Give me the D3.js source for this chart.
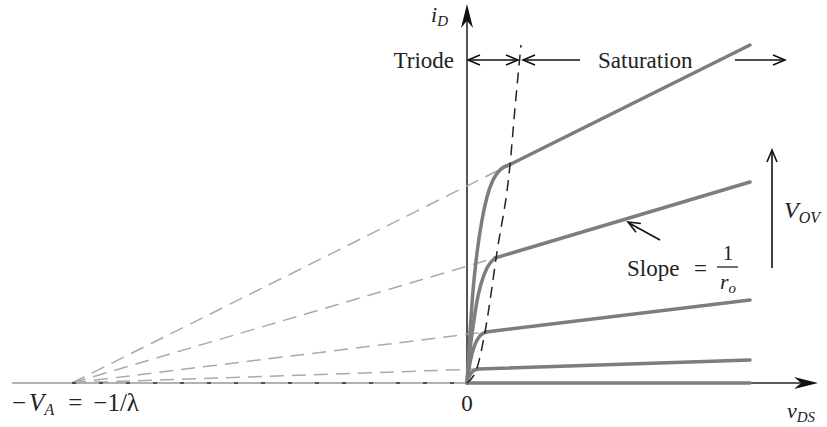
<!DOCTYPE html>
<html>
<head>
<meta charset="utf-8">
<script src="https://cdn.jsdelivr.net/npm/d3@7"></script>
<style>
  body { margin: 0; background: #fff; }
  text { font-family: "Liberation Serif", "DejaVu Serif", serif; fill: #222; }
</style>
</head>
<body>
<svg id="chart" width="827" height="427"></svg>
<script>
// v in volts-ish units, i in mA-ish units
var VA = 3.95
  , vMax = 2.83

// triode region of each curve, ending at the knee (v = V_OV)
var triode = [
  [[0, 0], [0.03, 0.5], [0.06, 0.92], [0.1, 1.3], [0.15, 1.63], [0.2, 1.86], [0.26, 2.03], [0.33, 2.13], [0.42, 2.18]],
  [[0, 0], [0.03, 0.33], [0.07, 0.63], [0.1, 0.82], [0.14, 0.99], [0.2, 1.15], [0.28, 1.25]],
  [[0, 0], [0.03, 0.2], [0.07, 0.36], [0.12, 0.46], [0.19, 0.51]],
  [[0, 0], [0.03, 0.08], [0.06, 0.12], [0.11, 0.14]],
  [[0, 0]]
]
// current at the right end of each saturation line
var satEnd = [3.38, 2.01, 0.83, 0.23, 0]

// v_DS = V_OV boundary (dashed)
var boundary = [[0, 0], [0.1, 0.15], [0.18, 0.51], [0.3, 1.31], [0.43, 2.18], [0.48, 2.75], [0.54, 3.38]]

var svg = d3.select('svg#chart')

var x = d3.scaleLinear().domain([-4.55, 3.51]).range([12, 818])
  , y = d3.scaleLinear().domain([0, 3.78]).range([383, 5])

var line = d3.line().x(function(d) { return x(d[0]) }).y(function(d) { return y(d[1]) })
  , smooth = d3.line().x(function(d) { return x(d[0]) }).y(function(d) { return y(d[1]) }).curve(d3.curveMonotoneX)

// open "V" arrowhead at (tx,ty) pointing along angle a
function openHead(g, tx, ty, a, len, half) {
  var bx = tx - len * Math.cos(a), by = ty - len * Math.sin(a)
    , px = -Math.sin(a) * half, py = Math.cos(a) * half
  g.append('path')
    .attr('d', 'M' + (bx + px) + ',' + (by + py) + 'L' + tx + ',' + ty + 'L' + (bx - px) + ',' + (by - py))
    .attr('fill', 'none').attr('stroke', '#111').attr('stroke-width', 1.6)
}
function filledHead(g, tx, ty, a, len, half) {
  var bx = tx - len * Math.cos(a), by = ty - len * Math.sin(a)
    , px = -Math.sin(a) * half, py = Math.cos(a) * half
    , nx = tx - 0.7 * len * Math.cos(a), ny = ty - 0.7 * len * Math.sin(a)
  g.append('path')
    .attr('d', 'M' + tx + ',' + ty + 'L' + (bx + px) + ',' + (by + py) + 'L' + nx + ',' + ny + 'L' + (bx - px) + ',' + (by - py) + 'Z')
    .attr('fill', '#111')
}

var g = svg.append('g')

// left part of x-axis (grey) and right part (black)
g.append('line').attr('x1', x(-4.55)).attr('x2', x(0)).attr('y1', y(0)).attr('y2', y(0))
  .attr('stroke', '#999').attr('stroke-width', 1.5)
g.append('line').attr('x1', x(0)).attr('x2', 812).attr('y1', y(0)).attr('y2', y(0))
  .attr('stroke', '#222').attr('stroke-width', 1.5)
filledHead(g, 818, y(0), 0, 24, 6)

// y-axis
g.append('line').attr('x1', x(0)).attr('x2', x(0)).attr('y1', y(0)).attr('y2', 12)
  .attr('stroke', '#555').attr('stroke-width', 2)
filledHead(g, x(0), 4, -Math.PI / 2, 24, 6)

// dashed extrapolations to -V_A
triode.forEach(function(pts, k) {
  var knee = pts[pts.length - 1]
  g.append('path').attr('d', line([[-VA, 0], knee]))
    .attr('fill', 'none').attr('stroke', k === 4 ? '#333' : '#aaa')
    .attr('stroke-width', 1.5).attr('stroke-dasharray', k === 4 ? '4,23' : '14,8')
})

// characteristic curves
triode.forEach(function(pts, k) {
  var knee = pts[pts.length - 1]
  if (pts.length > 1) {
    g.append('path').attr('d', smooth(pts))
      .attr('fill', 'none').attr('stroke', '#7d7d7d').attr('stroke-width', 3.5).attr('stroke-linecap', 'round')
  }
  g.append('path').attr('d', line([knee, [vMax, satEnd[k]]]))
    .attr('fill', 'none').attr('stroke', '#7d7d7d').attr('stroke-width', 3.5).attr('stroke-linecap', 'round')
})

// boundary
g.append('path').attr('d', smooth(boundary))
  .attr('fill', 'none').attr('stroke', '#222').attr('stroke-width', 1.5).attr('stroke-dasharray', '11,7')

// Triode / Saturation arrows
var ay = 60
g.append('line').attr('x1', x(0) + 1).attr('x2', 518).attr('y1', ay).attr('y2', ay).attr('stroke', '#111').attr('stroke-width', 1.6)
openHead(g, x(0) + 1, ay, Math.PI, 12, 5)
openHead(g, 518, ay, 0, 12, 5)
g.append('line').attr('x1', 523).attr('x2', 580).attr('y1', ay).attr('y2', ay).attr('stroke', '#111').attr('stroke-width', 1.6)
openHead(g, 523, ay, Math.PI, 12, 5)
g.append('line').attr('x1', 735).attr('x2', 785).attr('y1', ay).attr('y2', ay).attr('stroke', '#111').attr('stroke-width', 1.6)
openHead(g, 785, ay, 0, 12, 5)

g.append('text').attr('x', 454).attr('y', 68).attr('text-anchor', 'end').attr('font-size', 23).text('Triode')
g.append('text').attr('x', 598).attr('y', 68).attr('font-size', 23).text('Saturation')

// V_OV arrow
g.append('line').attr('x1', 772).attr('x2', 772).attr('y1', 268).attr('y2', 152).attr('stroke', '#111').attr('stroke-width', 1.6)
openHead(g, 772, 150, -Math.PI / 2, 12, 5)
var vov = g.append('text').attr('x', 784).attr('y', 218).attr('font-size', 24)
vov.append('tspan').attr('font-style', 'italic').text('V')
vov.append('tspan').attr('font-style', 'italic').attr('font-size', 16).attr('dy', 5).text('OV')

// slope annotation
g.append('line').attr('x1', 660).attr('y1', 240).attr('x2', 629).attr('y2', 223).attr('stroke', '#111').attr('stroke-width', 1.6)
openHead(g, 628, 222, Math.atan2(222 - 240, 628 - 660), 12, 5)
g.append('text').attr('x', 627).attr('y', 276).attr('font-size', 23).text('Slope')
g.append('text').attr('x', 694).attr('y', 276).attr('font-size', 23).text('=')
g.append('text').attr('x', 728).attr('y', 260).attr('text-anchor', 'middle').attr('font-size', 21).text('1')
g.append('line').attr('x1', 717).attr('x2', 738).attr('y1', 267).attr('y2', 267).attr('stroke', '#222').attr('stroke-width', 1.3)
var ro = g.append('text').attr('x', 720).attr('y', 289).attr('font-size', 22).attr('font-style', 'italic')
ro.append('tspan').text('r')
ro.append('tspan').attr('font-size', 15).attr('dy', 4).text('o')

// axis labels
var iD = g.append('text').attr('x', 431).attr('y', 22).attr('font-size', 22).attr('font-style', 'italic')
iD.append('tspan').text('i')
iD.append('tspan').attr('font-size', 15).attr('dy', 4).text('D')

var vDS = g.append('text').attr('x', 787).attr('y', 418).attr('font-size', 22).attr('font-style', 'italic')
vDS.append('tspan').text('v')
vDS.append('tspan').attr('font-size', 15).attr('dy', 4).text('DS')

g.append('text').attr('x', x(0)).attr('y', 411).attr('text-anchor', 'middle').attr('font-size', 23).text('0')

var va = g.append('text').attr('x', 12).attr('y', 411).attr('font-size', 25)
va.append('tspan').text('\u2212')
va.append('tspan').attr('dx', 3).attr('font-style', 'italic').text('V')
va.append('tspan').attr('font-style', 'italic').attr('font-size', 16).attr('dy', 4).text('A')
va.append('tspan').attr('dy', -4).attr('dx', 14).text('=')
va.append('tspan').attr('dx', 11).text('\u22121/\u03bb')
</script>
</body>
</html>
